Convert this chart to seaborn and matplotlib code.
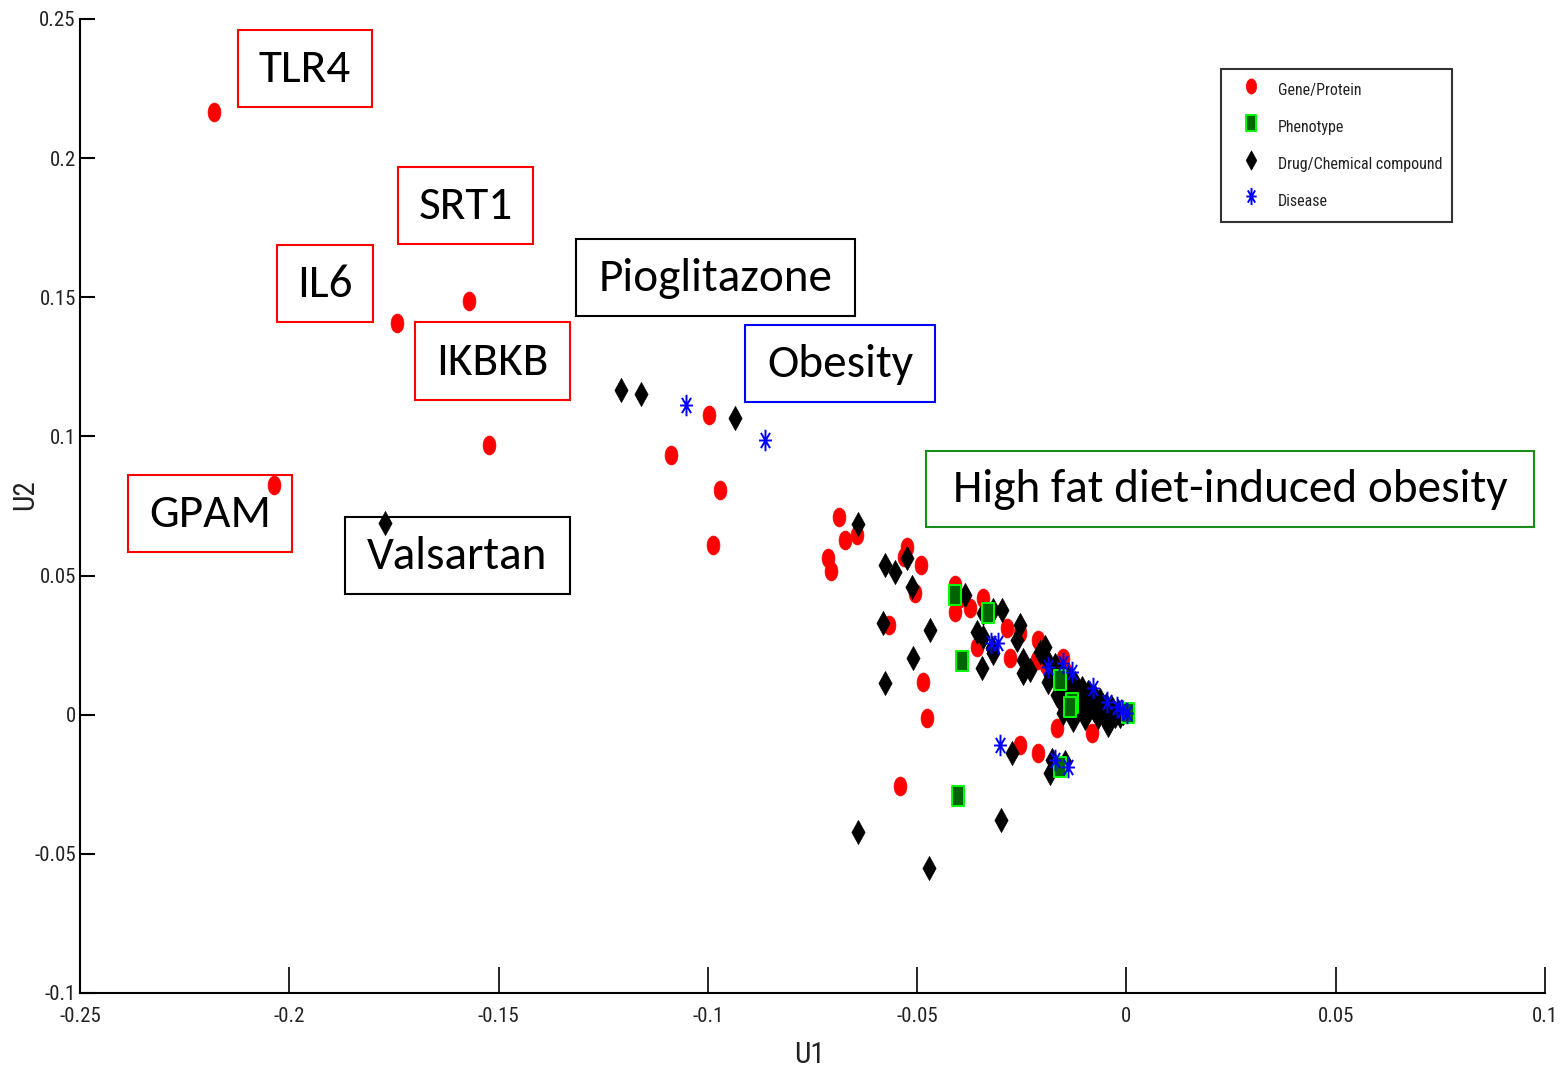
import numpy as np
import pandas as pd
import matplotlib
matplotlib.use("Agg")
import matplotlib.pyplot as plt
import matplotlib.font_manager as fm
from matplotlib.font_manager import FontProperties
import seaborn as sns
from matplotlib.path import Path
from matplotlib.transforms import Affine2D
from matplotlib.patches import Rectangle

# ---------------- data ----------------
gene_x = [-0.2180, -0.1571, -0.1743, -0.1523, -0.2037, -0.0997, -0.1088, -0.0971, -0.0988,
          -0.0687, -0.0672, -0.0644, -0.0713, -0.0706, -0.0524, -0.0532, -0.0491, -0.0505,
          -0.0567, -0.0486, -0.0477, -0.0541, -0.0410, -0.0410, -0.0374, -0.0343, -0.0357,
          -0.0285, -0.0278, -0.0254, -0.0211, -0.0214, -0.0152, -0.0166, -0.0104, -0.0082,
          -0.0254, -0.0211, -0.0099, -0.0192, -0.0156, -0.0128, -0.0080, -0.0039, -0.0063,
          -0.0020, -0.0145, -0.0111, -0.0398]
gene_y = [0.2167, 0.1488, 0.1409, 0.0970, 0.0826, 0.1078, 0.0934, 0.0808, 0.0611,
          0.0711, 0.0629, 0.0647, 0.0564, 0.0517, 0.0604, 0.0568, 0.0539, 0.0438,
          0.0323, 0.0119, -0.0011, -0.0255, 0.0467, 0.0370, 0.0384, 0.0420, 0.0244,
          0.0313, 0.0205, 0.0295, 0.0269, 0.0198, 0.0205, -0.0047, 0.0029, -0.0065,
          -0.0108, -0.0137, 0.0007, 0.0180, -0.0183, 0.0090, 0.0043, 0.0007, 0.0036,
          0.0011, 0.0155, 0.0090, 0.0420]

pheno_x = [-0.0410, -0.0393, -0.0402, -0.0159, -0.0130, -0.0135, -0.0159, 0.0004, -0.0331]
pheno_y = [0.0431, 0.0194, -0.0291, 0.0126, 0.0043, 0.0029, -0.0187, 0.0007, 0.0367]

drug_x = [-0.1771, -0.1208, -0.1160, -0.0935, -0.0641, -0.0577, -0.0553, -0.0524, -0.0512,
          -0.0582, -0.0469, -0.0510, -0.0577, -0.0386, -0.0357, -0.0345, -0.0319, -0.0297,
          -0.0321, -0.0343, -0.0343, -0.0319, -0.0254, -0.0262, -0.0247, -0.0231, -0.0195,
          -0.0188, -0.0166, -0.0128, -0.0068, -0.0044, -0.0274, -0.0183, -0.0178, -0.0641,
          -0.0472, -0.0300, -0.0147, -0.0247,
          -0.0207, -0.0190, -0.0171, -0.0154, -0.0140, -0.0123, -0.0106, -0.0092, -0.0075,
          -0.0063, -0.0049, -0.0035, -0.0020, -0.0008, -0.0183, -0.0164, -0.0147, -0.0130,
          -0.0111, -0.0094, -0.0078, -0.0059, -0.0027, -0.0016, -0.0159, -0.0140, -0.0118,
          -0.0099, -0.0152]
drug_y = [0.0690, 0.1168, 0.1153, 0.1067, 0.0686, 0.0539, 0.0514, 0.0564, 0.0460,
          0.0331, 0.0305, 0.0205, 0.0115, 0.0431, 0.0298, 0.0169, 0.0377, 0.0377,
          0.0241, 0.0367, 0.0280, 0.0223, 0.0323, 0.0269, 0.0198, 0.0162, 0.0244,
          0.0119, 0.0072, -0.0018, -0.0007, -0.0036, -0.0137, -0.0208, -0.0162, -0.0420,
          -0.0550, -0.0377, -0.0169, 0.0151,
          0.0226, 0.0198, 0.0180, 0.0155, 0.0133, 0.0115, 0.0097, 0.0083, 0.0065,
          0.0054, 0.0036, 0.0025, 0.0014, 0.0007, 0.0144, 0.0115, 0.0090, 0.0065,
          0.0054, 0.0036, 0.0018, 0.0007, -0.0004, -0.0004, 0.0054, 0.0025, 0.0014,
          -0.0011, 0.0007]

disease_x = [-0.1052, -0.0864, -0.0324, -0.0307, -0.0302, -0.0188, -0.0152, -0.0130,
             -0.0080, -0.0047, -0.0023, 0.0001, -0.0011, -0.0171, -0.0140]
disease_y = [0.1114, 0.0988, 0.0259, 0.0259, -0.0108, 0.0172, 0.0187, 0.0155,
             0.0097, 0.0047, 0.0029, 0.0007, 0.0018, -0.0162, -0.0187]

categories = ["Gene/Protein", "Phenotype", "Drug/Chemical compound", "Disease"]
x_ticks = [-0.25, -0.2, -0.15, -0.1, -0.05, 0, 0.05, 0.1]
x_tick_labels = ["-0.25", "-0.2", "-0.15", "-0.1", "-0.05", "0", "0.05", "0.1"]
y_ticks = [-0.1, -0.05, 0, 0.05, 0.1, 0.15, 0.2, 0.25]
y_tick_labels = ["-0.1", "-0.05", "0", "0.05", "0.1", "0.15", "0.2", "0.25"]

annot_texts = ["TLR4", "SRT1", "IL6", "Pioglitazone", "IKBKB", "Obesity", "GPAM",
               "Valsartan", "High fat diet-induced obesity"]

# --------------- frame of data ---------------
df = pd.concat([
    pd.DataFrame({"U1": gene_x, "U2": gene_y, "type": categories[0]}),
    pd.DataFrame({"U1": pheno_x, "U2": pheno_y, "type": categories[1]}),
    pd.DataFrame({"U1": drug_x, "U2": drug_y, "type": categories[2]}),
    pd.DataFrame({"U1": disease_x, "U2": disease_y, "type": categories[3]}),
], ignore_index=True)

# --------------- fonts ---------------
sns.set_theme(style="white")
plt.rcParams["font.family"] = ["Liberation Sans", "DejaVu Sans"]


def _is_condensed(f):
    s = f.stretch
    if "Narrow" in f.name or "Condensed" in f.name:
        return True
    if isinstance(s, str):
        return "condensed" in s
    try:
        return int(s) < 500
    except Exception:
        return False


def _regular(f):
    w = f.weight
    try:
        w = int(w)
    except Exception:
        w = {"normal": 400, "regular": 400, "book": 400}.get(str(w).lower(), 700)
    return f.style == "normal" and w in (400, 500)


pref = ["Liberation Sans Narrow", "Arial Narrow", "Roboto Condensed", "Open Sans Condensed",
        "Noto Sans", "DejaVu Sans", "Open Sans", "Roboto"]
cands = [f for f in fm.fontManager.ttflist
         if _is_condensed(f) and _regular(f) and "Mono" not in f.name and "Serif" not in f.name
         and "CJK" not in f.name]
cands.sort(key=lambda f: next((i for i, p in enumerate(pref) if f.name.startswith(p)), 99))
narrow_file = cands[0].fname if cands else None


def narrow(size):
    if narrow_file:
        return FontProperties(fname=narrow_file, size=size)
    return FontProperties(family=["Liberation Sans", "DejaVu Sans"], size=size)


W, H = 1564, 1070
fig = plt.figure(figsize=(W / 100, H / 100), dpi=100)
ax = fig.add_axes([80 / W, 1 - 993 / H, (1545 - 80) / W, (993 - 19) / H])

# custom markers (tall shapes as in the reference)
ellipse = Affine2D().scale(0.68, 1.0).transform_path(Path.unit_circle())
rect = Path([(-0.3, -0.5), (0.3, -0.5), (0.3, 0.5), (-0.3, 0.5), (-0.3, -0.5)],
            [Path.MOVETO, Path.LINETO, Path.LINETO, Path.LINETO, Path.CLOSEPOLY])
a = 0.6
d = 0.707
aster = Path([(0, -1), (0, 1), (-a, 0), (a, 0), (-a * d, -d), (a * d, d), (-a * d, d), (a * d, -d)],
             [Path.MOVETO, Path.LINETO] * 4)
thin_diamond = Path([(0, -1), (0.55, 0), (0, 1), (-0.55, 0), (0, -1)],
                    [Path.MOVETO, Path.LINETO, Path.LINETO, Path.LINETO, Path.CLOSEPOLY])

styles = {
    categories[0]: dict(marker=ellipse, s=185, color="#ff0000", edgecolor="#ff0000", linewidth=0.5),
    categories[2]: dict(marker=thin_diamond, s=300, color="black", edgecolor="black", linewidth=0.5),
    categories[1]: dict(marker=rect, s=220, color="#006400", edgecolor="#00ff00", linewidth=1.4),
    categories[3]: dict(marker=aster, s=240, color="#0000ff", edgecolor="#0000ff", linewidth=1.4),
}
for cat in [categories[0], categories[2], categories[1], categories[3]]:
    sub = df[df["type"] == cat]
    sns.scatterplot(data=sub, x="U1", y="U2", ax=ax, label=cat, legend=False, **styles[cat])

ax.set_xlim(-0.25, 0.1)
ax.set_ylim(-0.1, 0.25)
ax.set_xticks(x_ticks)
ax.set_xticklabels(x_tick_labels)
ax.set_yticks(y_ticks)
ax.set_yticklabels(y_tick_labels)
ax.tick_params(axis="x", direction="in", length=19, width=1.2, pad=10,
               colors="black", bottom=True)
ax.tick_params(axis="y", direction="in", length=11, width=1.5, pad=3,
               colors="black", left=True)
for lab in ax.get_xticklabels() + ax.get_yticklabels():
    lab.set_fontproperties(narrow(15))
    lab.set_color("#222222")
for side in ["top", "right"]:
    ax.spines[side].set_visible(False)
for side in ["left", "bottom"]:
    ax.spines[side].set_color("black")
    ax.spines[side].set_linewidth(1.5)
ax.set_xlabel("U1", fontproperties=narrow(21), color="#222222")
ax.set_ylabel("U2", fontproperties=narrow(21), color="#222222")
ax.xaxis.set_label_coords((810 - 80) / 1465, (993 - 1055) / 974)
ax.yaxis.set_label_coords((25 - 80) / 1465, (993 - 495) / 974)
ax.xaxis.label.set_va("center")
ax.yaxis.label.set_va("center")

# legend font size fitted to the reference text width (~166 px for the longest label)
probe = fig.text(0, 0, categories[2], fontproperties=narrow(14))
fig.canvas.draw()
pw = probe.get_window_extent(fig.canvas.get_renderer()).width
probe.remove()
leg_fs = min(16.0, 14 * 166.0 / pw)
fs_px = leg_fs * 100 / 72

handles, labels = ax.get_legend_handles_labels()
hmap = dict(zip(labels, handles))
leg = ax.legend([hmap[c] for c in categories], categories,
                loc="upper left", bbox_to_anchor=(1221 / W, 1 - 69 / H),
                bbox_transform=fig.transFigure, frameon=True, fancybox=False,
                edgecolor="black", prop=narrow(leg_fs),
                borderpad=9.0 / fs_px,
                handleheight=32.0 / fs_px,
                labelspacing=12.0 / fs_px,
                handlelength=42.0 / fs_px,
                handletextpad=6.0 / fs_px,
                borderaxespad=0, markerscale=0.8)
leg.get_frame().set_linewidth(1.5)
for t in leg.get_texts():
    t.set_color("#222222")

# --------------- annotation boxes ---------------
annot_boxes = [(238, 30, 372, 107), (398, 167, 533, 244), (277, 245, 373, 322),
               (576, 239, 855, 316), (415, 322, 570, 400), (745, 325, 935, 402),
               (128, 475, 292, 552), (345, 517, 570, 594), (926, 451, 1534, 527)]
annot_colors = ["#ff0000", "#ff0000", "#ff0000", "black", "#ff0000", "#0000ff",
                "#ff0000", "black", "#1a8c1a"]
calibri = ["Carlito", "Lato", "DejaVu Sans"]
for txt, (x0, y0, x1, y1), col in zip(annot_texts, annot_boxes, annot_colors):
    fig.patches.append(Rectangle((x0 / W, 1 - y1 / H), (x1 - x0) / W, (y1 - y0) / H,
                                 transform=fig.transFigure, fill=False,
                                 edgecolor=col, linewidth=1.5, zorder=5))
    fig.text((x0 + x1) / 2 / W, 1 - (y0 + y1 + 2) / 2 / H, txt, ha="center", va="center",
             fontsize=34, family=calibri, color="black", zorder=6)

fig.savefig("out.png", dpi=100, facecolor="white")
